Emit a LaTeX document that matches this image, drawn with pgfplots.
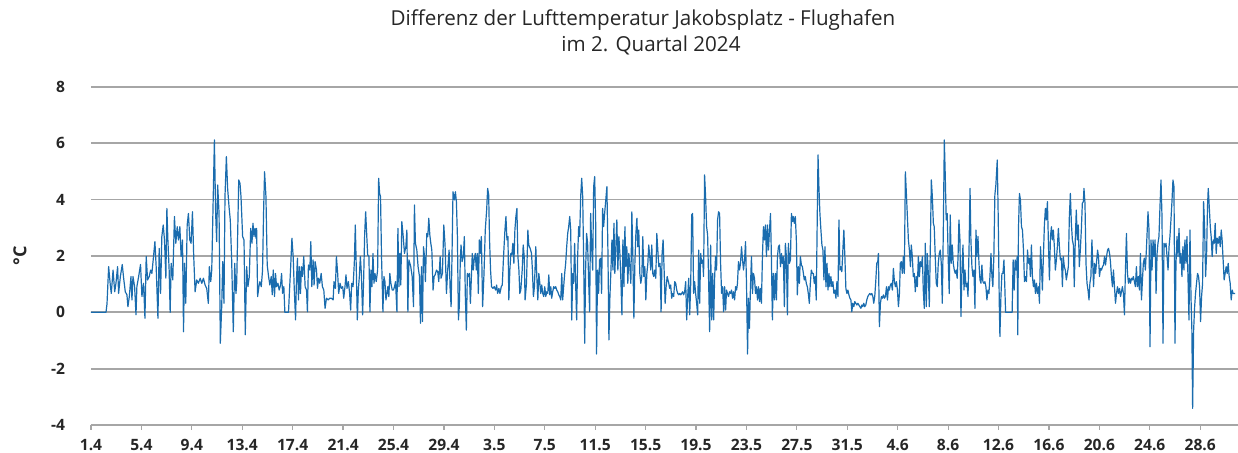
\documentclass[border=0pt]{standalone}
\usepackage{fontspec}
\setmainfont{Open Sans}
\usepackage{pgfplots}
\pgfplotsset{compat=1.18}
\definecolor{linie}{HTML}{1A6CAE}
\definecolor{gitter}{HTML}{A6A6A6}
\definecolor{schrift}{HTML}{262626}

\begin{document}
\begin{tikzpicture}
\begin{axis}[
  scale only axis, width=573.5pt, height=169pt,
  xmin=0, xmax=91, ymin=-4, ymax=8,
  axis line style={draw=none},
  ytick={-4,-2,...,8},
  ymajorgrids, grid style={draw=gitter, line width=0.85pt},
  xtick={0,4,...,88},
  xticklabels={1.4,5.4,9.4,13.4,17.4,21.4,25.4,29.4,3.5,7.5,11.5,15.5,19.5,23.5,27.5,31.5,4.6,8.6,12.6,16.6,20.6,24.6,28.6},
  xtick pos=lower, tick align=outside, major tick length=2.5pt,
  xtick style={draw=gitter, line width=0.6pt},
  ytick style={draw=none},
  /pgf/number format/assume math mode=true,
  tick label style={font=\bfseries\fontsize{7.8}{9}\selectfont, text=schrift},
  yticklabel style={xshift=-7pt},
  xticklabel style={yshift=-1pt},
]
\addplot[color=linie, line width=0.6pt, mark=none, line join=round] table[row sep=\\] {
x y\\
0 0\\ 1.19 0\\ 1.27 0.30\\ 1.40 1.62\\ 1.53 0.97\\ 1.61 0.67\\ 1.75 1.50\\ 1.88 0.73\\ 1.98 1.03\\ 2.11 1.62\\
2.19 0.67\\ 2.33 1.27\\ 2.48 1.70\\ 2.59 1.21\\ 2.72 0.73\\ 2.85 0.62\\ 2.93 0.20\\ 3.04 0.56\\ 3.17 1.27\\ 3.25 0.44\\
3.33 1.27\\ 3.46 0.91\\ 3.57 -0.09\\ 3.64 0.91\\ 3.78 1.27\\ 3.93 1.70\\ 4.04 0.56\\ 4.17 1.03\\ 4.28 -0.21\\ 4.38 1.98\\
4.49 1.15\\ 4.62 1.27\\ 4.73 1.50\\ 4.83 1.38\\ 4.96 1.98\\ 5.07 2.51\\ 5.17 1.62\\ 5.31 -0.21\\ 5.41 2.27\\ 5.52 0.67\\
5.62 2.69\\ 5.73 3.10\\ 5.83 2.57\\ 5.94 1.21\\ 6.02 3.69\\ 6.10 2.57\\ 6.20 1.50\\ 6.28 0\\ 6.36 1.74\\ 6.49 1.15\\
6.62 3.40\\ 6.73 2.45\\ 6.84 3.04\\ 6.94 2.57\\ 7.05 3.04\\ 7.15 1.98\\ 7.26 2.57\\ 7.34 -0.69\\ 7.42 1.74\\ 7.52 0.32\\
7.63 3.10\\ 7.73 3.51\\ 7.84 2.57\\ 7.94 2.45\\ 8.05 3.57\\ 8.15 1.98\\ 8.26 0.73\\ 8.39 1.15\\ 8.52 1.03\\ 8.66 1.21\\
8.79 1.03\\ 8.92 1.21\\ 9.05 0.97\\ 9.18 0.85\\ 9.31 0.32\\ 9.39 1.62\\ 9.50 1.09\\ 9.58 1.50\\ 9.79 6.12\\ 9.89 3.51\\
9.97 2.51\\ 10.05 4.52\\ 10.16 3.51\\ 10.26 -1.10\\ 10.37 0.20\\ 10.45 1.80\\ 10.55 0.32\\ 10.63 4.11\\ 10.74 5.53\\ 10.84 4.40\\
10.95 3.75\\ 11.05 3.28\\ 11.16 1.86\\ 11.29 -0.69\\ 11.40 1.74\\
11.50 0.67\\ 11.56 1.03\\ 11.72 4.70\\ 11.82 4.58\\ 11.90 4.11\\ 12.03 2.69\\ 12.14 2.57\\ 12.24 -0.80\\ 12.35 1.62\\ 12.45 0.91\\
12.56 1.27\\ 12.67 2.98\\ 12.77 2.45\\ 12.85 3.16\\ 12.93 2.69\\ 13.01 2.98\\ 13.09 2.63\\ 13.14 2.98\\ 13.22 0.56\\ 13.32 0.91\\
13.40 1.09\\ 13.51 0.91\\ 13.61 1.50\\ 13.69 3.51\\ 13.77 4.99\\ 13.88 4.11\\ 13.98 1.68\\ 14.09 1.27\\ 14.19 0.97\\ 14.30 1.27\\
14.38 0.62\\ 14.46 1.50\\ 14.56 0.56\\ 14.64 1.38\\ 14.72 0.91\\ 14.83 1.03\\ 14.93 0.79\\ 15.04 0.97\\ 15.12 1.38\\ 15.20 0.67\\
15.30 0.91\\ 15.38 0\\ 15.67 0\\ 15.75 0.79\\ 15.83 1.50\\ 15.94 2.63\\ 16.04 1.98\\ 16.12 0.91\\ 16.23 -0.27\\ 16.30 1.15\\
16.38 1.92\\ 16.46 0.44\\ 16.54 1.62\\ 16.62 0.67\\ 16.70 1.62\\ 16.78 1.27\\ 16.88 1.98\\ 16.99 0.91\\ 17.10 0.79\\ 17.17 0.02\\
17.25 1.68\\ 17.36 1.50\\ 17.44 2.51\\ 17.52 0.91\\ 17.62 1.86\\ 17.70 0.97\\ 17.78 1.80\\ 17.89 1.50\\ 17.97 0.85\\ 18.05 1.21\\
18.15 1.03\\ 18.26 1.38\\ 18.36 0.91\\ 18.47 0.79\\ 18.57 0.14\\ 18.68 0.50\\ 18.81 0.44\\ 18.94 0.50\\ 19.07 0.50\\ 19.21 0.44\\
19.28 1.09\\ 19.39 0.85\\ 19.47 1.98\\ 19.57 1.38\\ 19.65 0.67\\ 19.76 1.03\\ 19.86 0.85\\ 19.97 0.91\\ 20.05 0.50\\ 20.15 0.91\\
20.23 1.33\\ 20.31 0.85\\ 20.42 1.09\\ 20.52 0.67\\ 20.60 0.08\\ 20.68 1.03\\ 20.79 0.91\\ 20.89 1.74\\ 20.97 3.10\\ 21.05 1.50\\
21.13 -0.27\\ 21.21 0.79\\ 21.29 1.27\\ 21.37 1.98\\ 21.45 1.38\\ 21.55 -0.09\\ 21.63 1.15\\ 21.71 2.75\\ 21.79 3.57\\ 21.87 2.80\\
21.95 2.04\\ 22.05 1.98\\ 22.13 0.02\\ 22.21 1.50\\ 22.29 0.91\\ 22.37 2.09\\ 22.45 1.03\\ 22.53 1.38\\ 22.63 1.09\\ 22.74 1.50\\
22.82 4.76\\ 22.90 4.22\\ 22.97 4.11\\ 23.05 1.98\\ 23.16 0.02\\ 23.24 1.27\\ 23.32 1.09\\ 23.40 0.44\\ 23.48 0.67\\ 23.55 0.91\\
23.63 0.56\\ 23.71 1.38\\ 23.79 1.03\\ 23.90 0.79\\ 24.00 0.79\\ 24.08 0.91\\ 24.16 1.09\\ 24.27 0.02\\ 24.35 2.98\\ 24.43 0.91\\
24.50 2.09\\ 24.58 0.97\\ 24.66 3.22\\ 24.77 2.69\\ 24.87 2.09\\ 24.98 2.33\\ 25.06 2.92\\ 25.14 0.02\\ 25.22 1.86\\ 25.30 1.74\\
25.37 1.62\\ 25.48 1.27\\ 25.59 0.20\\ 25.66 3.81\\ 25.74 2.45\\ 25.85 2.21\\ 25.95 1.62\\ 26.06 1.27\\ 26.14 -0.39\\ 26.22 1.62\\
26.30 -0.33\\ 26.38 2.33\\ 26.46 1.98\\ 26.53 1.09\\ 26.64 2.80\\ 26.72 2.69\\ 26.80 3.34\\ 26.88 2.75\\ 26.96 2.45\\ 27.04 2.21\\
27.14 0.79\\ 27.22 1.27\\ 27.30 1.33\\ 27.41 1.50\\ 27.51 1.44\\ 27.59 1.09\\ 27.70 1.98\\ 27.77 1.21\\ 27.88 1.38\\ 27.99 3.10\\
28.09 2.39\\ 28.20 0.67\\ 28.30 1.50\\ 28.41 2.21\\ 28.49 0.85\\ 28.57 0.20\\ 28.64 1.98\\ 28.72 4.28\\ 28.83 3.99\\ 28.91 4.28\\
28.99 3.93\\ 29.07 2.69\\ 29.15 -0.27\\ 29.22 0.20\\ 29.30 1.86\\ 29.36 2.39\\ 29.44 1.80\\ 29.54 1.98\\ 29.62 2.69\\ 29.70 0.56\\
29.78 -0.63\\ 29.86 1.38\\ 29.94 1.27\\ 30.02 1.38\\ 30.10 0.32\\ 30.17 1.15\\ 30.25 2.09\\ 30.33 1.50\\ 30.41 1.92\\ 30.49 2.09\\
30.57 1.50\\ 30.65 2.09\\ 30.73 0.67\\ 30.81 2.57\\ 30.89 2.09\\ 30.97 2.69\\ 31.07 0.20\\ 31.18 1.38\\ 31.28 2.92\\ 31.39 3.63\\
31.47 4.40\\ 31.55 4.17\\ 31.62 2.57\\ 31.70 1.50\\ 31.78 0.91\\ 31.89 0.85\\ 31.99 0.91\\ 32.10 0.79\\ 32.18 0.97\\ 32.26 0.67\\
32.36 0.85\\ 32.44 0.67\\ 32.55 0.91\\ 32.63 0.97\\ 32.73 1.98\\ 32.84 2.92\\ 32.92 3.40\\ 33.00 2.57\\ 33.08 2.69\\ 33.15 0.44\\
33.23 1.50\\ 33.31 2.09\\ 33.39 2.04\\ 33.47 2.45\\ 33.55 1.74\\ 33.63 2.92\\ 33.71 3.40\\ 33.79 3.69\\ 33.87 1.98\\ 33.95 1.50\\
34.02 0.67\\ 34.10 0.79\\ 34.21 1.50\\ 34.29 2.39\\ 34.37 1.98\\
34.44 0.44\\ 34.55 1.03\\ 34.66 2.92\\ 34.73 2.39\\ 34.84 2.27\\ 34.95 2.09\\ 35.02 1.50\\ 35.10 0.56\\ 35.18 0.91\\ 35.29 2.33\\
35.37 1.27\\ 35.45 0.44\\ 35.53 1.38\\ 35.61 1.03\\ 35.68 0.67\\ 35.76 0.97\\ 35.84 0.67\\ 35.92 0.56\\ 36.00 0.91\\ 36.08 0.56\\
36.16 0.73\\ 36.24 0.67\\ 36.32 1.33\\ 36.40 0.62\\ 36.48 0.91\\ 36.55 0.50\\ 36.63 0.73\\ 36.71 0.91\\ 36.79 0.85\\ 36.87 0.91\\
36.95 0.79\\ 37.03 0.73\\ 37.11 0.62\\ 37.19 0.56\\ 37.27 0.44\\ 37.35 1.38\\ 37.42 0.44\\ 37.50 0.91\\ 37.58 1.38\\ 37.66 1.74\\
37.74 2.33\\ 37.82 2.80\\ 37.90 3.04\\ 37.98 3.40\\ 38.06 2.92\\ 38.14 -0.27\\ 38.22 1.38\\ 38.29 1.03\\ 38.37 2.45\\ 38.45 1.03\\
38.53 -0.27\\ 38.61 1.98\\ 38.69 3.04\\ 38.77 2.69\\ 38.85 4.11\\ 38.93 4.76\\ 39.01 4.11\\ 39.09 1.74\\ 39.17 -1.10\\ 39.24 1.50\\
39.32 2.80\\ 39.40 2.45\\ 39.48 1.15\\ 39.56 0.02\\ 39.64 3.51\\ 39.72 2.33\\ 39.80 1.50\\ 39.88 4.46\\ 39.96 4.82\\ 40.04 3.16\\
40.11 -1.48\\ 40.19 1.50\\ 40.27 0.67\\ 40.35 1.86\\ 40.43 1.92\\ 40.51 0.67\\ 40.59 3.69\\ 40.67 3.04\\ 40.75 3.51\\ 40.83 3.93\\
40.93 4.46\\ 41.01 2.21\\ 41.09 -0.98\\ 41.17 0.56\\ 41.25 1.50\\ 41.33 2.57\\ 41.41 1.50\\ 41.49 3.16\\ 41.56 1.38\\ 41.64 2.33\\
41.72 3.28\\ 41.80 1.50\\ 41.88 2.69\\ 41.96 2.09\\ 42.04 1.15\\ 42.12 -0.09\\ 42.20 2.57\\ 42.28 0.91\\ 42.36 3.04\\ 42.43 1.62\\
42.51 2.33\\ 42.59 1.03\\ 42.67 2.09\\ 42.75 1.62\\ 42.83 1.03\\ 42.91 3.57\\ 42.99 1.98\\ 43.07 -0.21\\ 43.15 1.74\\ 43.23 2.80\\
43.31 3.34\\ 43.38 2.33\\ 43.46 2.92\\ 43.54 1.38\\ 43.62 1.03\\ 43.70 1.27\\ 43.78 2.69\\ 43.86 1.27\\ 43.94 1.62\\ 44.02 0.44\\
44.10 1.38\\ 44.18 1.74\\ 44.25 2.39\\ 44.33 1.98\\ 44.41 1.50\\ 44.49 2.39\\ 44.57 1.38\\ 44.65 1.27\\ 44.73 1.50\\ 44.81 1.21\\
44.89 2.80\\ 44.97 2.21\\ 45.05 1.62\\ 45.15 1.74\\ 45.23 0.02\\ 45.31 2.09\\ 45.39 2.57\\ 45.47 1.50\\ 45.55 0.32\\ 45.63 0.91\\
45.71 1.27\\ 45.84 1.03\\
45.91 0.85\\ 45.99 0.97\\ 46.07 0.50\\ 46.15 0.67\\ 46.23 0.56\\ 46.31 1.09\\ 46.39 1.03\\ 46.47 0.79\\ 46.55 0.67\\ 46.63 0.62\\
46.71 0.67\\ 46.79 0.62\\ 46.86 0.67\\ 46.94 0.73\\ 47.02 0.62\\ 47.10 0.73\\ 47.18 1.09\\ 47.26 -0.27\\ 47.34 0.56\\ 47.42 1.21\\
47.50 -0.09\\ 47.58 1.03\\ 47.66 3.46\\ 47.73 3.51\\ 47.81 0.67\\ 47.89 1.09\\ 47.97 0.67\\ 48.05 0.32\\ 48.13 -0.09\\ 48.21 2.21\\
48.29 0.32\\ 48.37 2.09\\ 48.45 1.74\\ 48.53 1.86\\ 48.60 1.27\\ 48.68 4.88\\ 48.76 4.11\\ 48.84 3.04\\ 48.92 2.75\\ 49.00 1.15\\
49.08 -0.69\\ 49.16 2.39\\ 49.24 -0.27\\ 49.32 1.38\\ 49.40 -0.27\\ 49.48 1.27\\ 49.55 1.98\\ 49.63 1.50\\ 49.71 3.28\\ 49.79 3.57\\
49.87 3.51\\ 49.95 1.74\\ 50.03 0.67\\ 50.11 0.91\\ 50.19 0.02\\ 50.27 0.91\\ 50.35 0.08\\ 50.42 0.79\\ 50.50 0.67\\ 50.58 0.56\\
50.66 0.73\\ 50.74 0.67\\ 50.82 0.79\\ 50.90 0.50\\ 50.98 0.73\\ 51.06 0.44\\ 51.14 0.91\\ 51.22 0.79\\ 51.29 1.03\\ 51.37 1.80\\
51.45 1.50\\ 51.53 1.74\\ 51.61 2.33\\ 51.69 1.86\\ 51.77 1.50\\ 51.85 1.86\\ 51.93 2.51\\ 52.01 0.91\\ 52.09 -1.48\\ 52.16 0.50\\
52.24 -0.57\\ 52.32 0.91\\ 52.40 1.98\\ 52.48 0.67\\ 52.56 1.38\\ 52.64 1.21\\ 52.72 0.67\\ 52.80 0.91\\ 52.88 0.44\\ 52.96 0.91\\
53.04 0.38\\ 53.11 0.85\\ 53.19 0.32\\ 53.27 1.98\\ 53.35 3.04\\ 53.43 2.57\\ 53.51 3.10\\ 53.59 1.98\\ 53.67 3.10\\ 53.75 2.21\\
53.83 2.92\\ 53.91 3.51\\ 53.98 1.98\\ 54.06 -0.27\\ 54.14 1.38\\ 54.22 0.44\\ 54.30 1.38\\ 54.38 0.44\\ 54.46 1.98\\ 54.54 2.33\\
54.62 2.39\\ 54.70 1.62\\ 54.78 2.09\\ 54.85 1.74\\ 54.93 1.98\\ 55.01 0.20\\ 55.09 2.45\\ 55.17 1.98\\ 55.25 -0.09\\ 55.33 2.45\\
55.41 1.74\\ 55.49 1.86\\ 55.57 3.51\\ 55.65 3.22\\ 55.72 3.40\\ 55.80 3.16\\ 55.88 3.40\\ 55.96 2.57\\ 56.04 0.62\\ 56.12 1.62\\
56.20 1.03\\ 56.28 1.98\\ 56.36 1.68\\ 56.44 1.62\\ 56.52 1.38\\ 56.59 1.15\\ 56.67 1.27\\ 56.75 1.03\\ 56.83 0.91\\ 56.91 0.67\\
56.99 0.32\\ 57.07 1.03\\ 57.15 1.50\\ 57.23 1.38\\
57.31 1.38\\ 57.38 1.03\\ 57.46 1.27\\ 57.54 0.44\\ 57.62 3.40\\ 57.68 5.59\\ 57.75 4.46\\ 57.83 3.51\\ 57.91 2.92\\ 57.99 2.39\\
58.07 2.21\\ 58.15 1.15\\ 58.23 2.33\\ 58.31 0.91\\ 58.39 1.74\\ 58.47 0.79\\ 58.55 1.38\\ 58.62 0.91\\ 58.70 1.27\\ 58.78 0.91\\
58.86 1.09\\ 58.94 0.67\\ 59.02 0.79\\ 59.10 0.50\\ 59.18 1.09\\ 59.26 0.56\\ 59.34 3.28\\ 59.42 1.50\\ 59.49 1.62\\ 59.57 1.44\\
59.65 2.21\\ 59.73 2.92\\ 59.81 1.98\\ 59.89 0.85\\ 59.97 0.67\\ 60.05 0.79\\ 60.13 0.62\\ 60.21 0.50\\ 60.29 0.44\\ 60.36 0.02\\
60.44 0.32\\ 60.52 0.20\\ 60.60 0.38\\ 60.68 0.32\\ 60.76 0.26\\ 60.84 0.32\\ 60.92 0.26\\ 61.00 0.20\\ 61.08 0.14\\ 61.16 0.26\\
61.23 0.20\\ 61.31 0.32\\ 61.39 0.20\\ 61.47 0.26\\ 61.55 0.44\\ 61.63 0.56\\ 61.71 0.62\\ 61.79 0.67\\ 61.87 0.62\\ 61.95 0.67\\
62.03 0.56\\ 62.10 0.32\\ 62.18 0.56\\ 62.26 1.09\\ 62.34 1.74\\ 62.42 1.80\\ 62.47 2.09\\ 62.55 -0.51\\ 62.63 0.32\\ 62.71 0.56\\
62.79 0.50\\ 62.87 0.62\\ 62.95 0.50\\ 63.03 0.56\\ 63.11 0.91\\ 63.19 0.44\\ 63.27 0.91\\ 63.34 0.79\\ 63.42 0.97\\ 63.50 1.03\\
63.58 0.79\\ 63.66 1.56\\ 63.74 1.09\\ 63.82 0.91\\ 63.90 1.09\\ 63.98 0.79\\ 64.06 0.20\\ 64.14 0.67\\ 64.21 1.74\\ 64.29 1.80\\
64.37 1.38\\ 64.45 1.98\\ 64.53 1.38\\ 64.61 4.99\\ 64.69 4.22\\ 64.77 3.40\\ 64.85 2.57\\ 64.93 2.21\\ 65.01 1.62\\ 65.08 2.39\\
65.16 1.98\\ 65.24 1.27\\ 65.32 1.38\\ 65.40 0.73\\ 65.48 1.27\\ 65.56 0.91\\ 65.64 1.98\\ 65.72 1.27\\ 65.80 1.80\\ 65.88 1.62\\
65.96 1.98\\ 66.03 0.79\\ 66.11 0.14\\ 66.19 2.45\\ 66.27 0.20\\ 66.35 2.09\\ 66.43 1.38\\ 66.51 0.20\\ 66.59 2.33\\ 66.67 4.70\\
66.75 4.11\\ 66.83 3.16\\ 66.90 3.04\\ 66.98 1.98\\ 67.06 1.03\\ 67.14 0.91\\ 67.22 1.74\\ 67.30 2.09\\ 67.38 2.21\\ 67.46 1.74\\
67.54 0.32\\ 67.62 2.92\\ 67.70 6.12\\ 67.77 4.93\\ 67.85 3.28\\ 67.93 3.51\\ 68.01 1.86\\ 68.09 0.67\\ 68.17 3.46\\ 68.25 1.74\\
68.33 2.39\\ 68.41 1.74\\ 68.49 1.50\\ 68.57 1.38\\ 68.64 1.50\\ 68.72 1.21\\
68.79 1.98\\ 68.86 3.28\\ 68.94 2.57\\ 69.02 -0.15\\ 69.10 1.50\\ 69.18 2.39\\ 69.26 0.79\\ 69.34 1.50\\ 69.42 0.91\\ 69.50 1.03\\
69.58 0.56\\ 69.66 2.21\\ 69.74 4.40\\ 69.81 2.57\\ 69.89 1.62\\ 69.97 1.27\\ 70.05 1.50\\ 70.13 0.14\\ 70.21 2.92\\ 70.29 1.98\\
70.37 2.69\\ 70.45 1.74\\ 70.53 1.15\\ 70.61 1.03\\ 70.68 1.68\\ 70.76 1.09\\ 70.84 1.03\\ 70.92 1.09\\ 71.00 0.91\\ 71.08 0.44\\
71.16 0.79\\ 71.24 0.67\\ 71.32 1.27\\ 71.40 2.09\\ 71.48 1.27\\ 71.55 0.91\\ 71.63 1.98\\ 71.71 4.17\\ 71.79 4.52\\ 71.90 5.41\\
71.98 3.28\\ 72.06 0.32\\ 72.11 -0.86\\ 72.19 0.56\\ 72.27 1.38\\ 72.35 1.38\\ 72.43 1.86\\ 72.50 0.91\\ 72.56 0\\ 73.08 0\\
73.16 1.86\\ 73.24 0.79\\ 73.32 1.86\\ 73.40 1.50\\ 73.48 1.98\\ 73.53 -0.80\\ 73.58 2.92\\ 73.66 4.22\\ 73.74 3.99\\ 73.82 3.04\\
73.90 2.92\\ 73.98 2.21\\ 74.06 1.09\\ 74.14 1.27\\ 74.22 1.09\\ 74.30 2.21\\ 74.38 1.74\\ 74.46 1.92\\ 74.53 1.27\\ 74.61 2.39\\
74.69 1.27\\ 74.77 0.91\\ 74.85 1.15\\ 74.93 0.67\\ 75.01 1.03\\ 75.09 0.67\\ 75.17 0.91\\ 75.25 0.32\\ 75.33 2.33\\ 75.40 1.74\\
75.48 0.79\\ 75.56 1.98\\ 75.64 3.10\\ 75.72 3.69\\ 75.80 3.28\\ 75.88 3.93\\ 75.96 2.45\\ 76.04 1.15\\ 76.12 2.69\\ 76.20 3.04\\
76.27 2.57\\ 76.35 2.92\\ 76.43 2.33\\ 76.51 1.50\\ 76.59 1.86\\ 76.67 2.33\\ 76.75 2.98\\ 76.83 2.33\\ 76.91 1.86\\ 76.99 1.92\\
77.07 0.91\\ 77.14 1.98\\ 77.22 1.62\\ 77.30 1.50\\ 77.38 1.15\\ 77.46 1.38\\ 77.54 1.62\\ 77.62 3.40\\ 77.70 4.22\\ 77.78 3.16\\
77.86 2.57\\ 77.94 2.39\\ 78.01 0.91\\ 78.09 2.57\\ 78.17 3.63\\ 78.25 2.57\\ 78.33 3.10\\ 78.41 1.62\\ 78.49 2.21\\ 78.57 2.92\\
78.65 3.87\\ 78.73 3.93\\ 78.78 4.40\\ 78.86 3.87\\ 78.94 1.74\\ 79.02 1.03\\ 79.10 0.79\\ 79.18 0.44\\ 79.25 1.03\\ 79.33 1.27\\
79.41 2.57\\
79.54 0.91\\ 79.62 1.74\\ 79.70 1.38\\ 79.78 1.80\\ 79.86 2.21\\ 79.93 1.98\\ 80.01 1.27\\ 80.09 1.56\\ 80.17 1.50\\ 80.25 1.62\\
80.33 1.68\\ 80.41 1.98\\ 80.49 1.68\\ 80.57 1.98\\ 80.65 2.21\\ 80.73 2.27\\ 80.81 2.09\\ 80.88 1.80\\ 80.96 1.27\\ 81.04 0.91\\
81.12 1.50\\ 81.20 0.91\\ 81.28 0.32\\ 81.36 0.67\\ 81.44 0.91\\ 81.52 0.67\\ 81.60 0.85\\ 81.68 0.56\\ 81.75 0.73\\ 81.83 0.91\\
81.91 0.67\\ 81.99 -0.09\\ 82.07 1.50\\ 82.15 2.80\\ 82.23 1.38\\ 82.31 1.03\\ 82.39 1.21\\ 82.47 1.03\\ 82.55 1.21\\ 82.62 1.15\\
82.70 1.27\\ 82.78 1.09\\ 82.86 0.91\\ 82.94 1.62\\ 83.02 0.91\\ 83.10 1.27\\ 83.18 0.79\\ 83.26 2.09\\ 83.34 0.44\\ 83.42 1.15\\
83.49 1.74\\ 83.57 1.92\\ 83.65 1.50\\ 83.73 2.21\\ 83.81 3.04\\ 83.86 3.57\\ 83.94 2.92\\ 84.02 -1.22\\ 84.10 2.57\\ 84.18 1.50\\
84.26 2.57\\ 84.34 1.98\\ 84.42 2.57\\ 84.50 0.67\\ 84.58 2.09\\ 84.65 2.45\\ 84.73 2.69\\ 84.81 3.75\\ 84.89 4.70\\ 84.97 3.40\\
85.05 -1.10\\ 85.13 2.45\\ 85.21 2.33\\ 85.29 2.45\\ 85.37 1.98\\ 85.45 1.50\\ 85.53 2.33\\ 85.60 2.69\\ 85.68 3.28\\ 85.76 3.93\\
85.84 4.70\\ 85.92 4.46\\ 86.00 -1.10\\ 86.08 1.74\\ 86.16 2.69\\ 86.24 1.98\\ 86.32 2.98\\ 86.40 1.74\\ 86.48 2.09\\ 86.55 1.27\\
86.63 2.33\\ 86.71 1.50\\ 86.79 2.57\\ 86.87 1.74\\ 86.95 2.69\\ 87.03 1.27\\ 87.11 -0.27\\ 87.19 2.92\\ 87.27 0.56\\ 87.34 -0.63\\
87.40 -3.41\\ 87.48 -0.63\\ 87.56 0.20\\ 87.63 0.67\\ 87.71 1.03\\ 87.79 1.38\\ 87.87 1.27\\ 87.95 0.91\\ 88.03 -0.33\\ 88.11 0.56\\
88.19 1.03\\ 88.27 3.93\\ 88.35 3.04\\ 88.43 1.27\\ 88.51 2.09\\ 88.58 3.75\\ 88.64 4.40\\ 88.72 3.75\\ 88.80 3.04\\ 88.87 2.69\\
88.95 1.98\\ 89.03 2.57\\ 89.11 2.45\\ 89.19 3.16\\ 89.27 2.09\\ 89.35 2.63\\ 89.43 2.45\\ 89.51 2.69\\ 89.59 2.33\\ 89.67 2.92\\
89.74 2.57\\ 89.82 1.86\\ 89.90 1.15\\ 89.98 1.38\\ 90.06 1.62\\ 90.14 1.38\\ 90.22 1.74\\ 90.30 1.27\\ 90.38 1.03\\ 90.46 0.44\\
90.54 0.79\\ 90.61 0.67\\ 90.77 0.67\\
};
\coordinate (bl) at (rel axis cs:0,0);
\coordinate (tl) at (rel axis cs:0,1);
\coordinate (ml) at (rel axis cs:0,0.5);
\end{axis}
\node[font=\fontsize{10.3}{12}\selectfont, text=schrift] at ([xshift=276pt, yshift=33.5pt]tl) {Differenz der Lufttemperatur Jakobsplatz - Flughafen};
\node[font=\fontsize{10.3}{12}\selectfont, text=schrift] at ([xshift=280pt, yshift=21pt]tl) {im 2. Quartal 2024};
\node[font=\bfseries\fontsize{9}{10}\selectfont, text=schrift, rotate=90] at ([xshift=-35.5pt]ml) {°C};
\pgfresetboundingbox
\path[use as bounding box] (bl) ++(-45.5pt,-14pt) rectangle ++(619pt,226.5pt);
\end{tikzpicture}
\end{document}
